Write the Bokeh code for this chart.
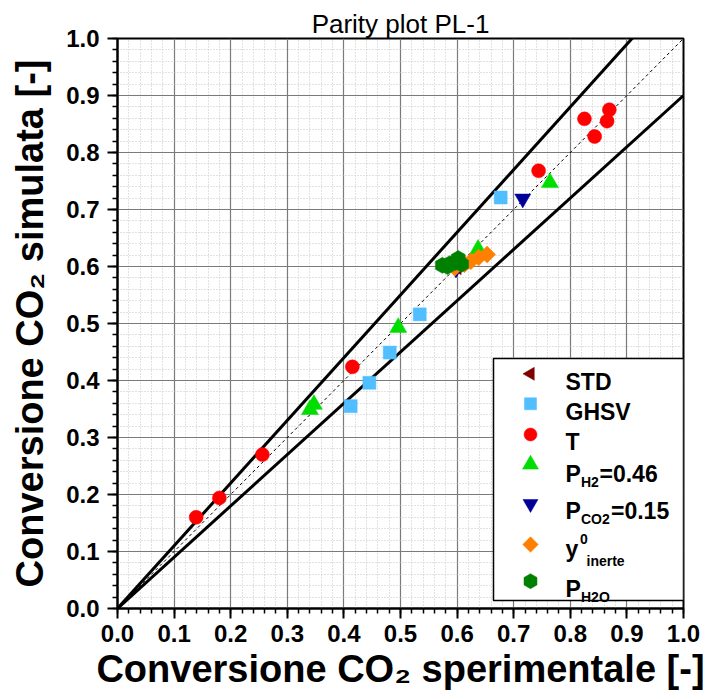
import numpy as np
from bokeh.plotting import figure
from bokeh.models import Range1d, SingleIntervalTicker, PrintfTickFormatter
from bokeh.core.properties import value
from bokeh.embed import file_html
from bokeh.resources import INLINE

# ---------------- data ----------------
std_x = [0.600]
std_y = [0.598]
ghsv_x = [0.412, 0.445, 0.481, 0.534, 0.677]
ghsv_y = [0.355, 0.396, 0.449, 0.516, 0.721]
t_x = [0.139, 0.180, 0.256, 0.415, 0.744, 0.825, 0.843, 0.865, 0.869]
t_y = [0.160, 0.194, 0.270, 0.424, 0.768, 0.859, 0.828, 0.855, 0.875]
ph2_x = [0.340, 0.347, 0.496, 0.637, 0.764]
ph2_y = [0.349, 0.358, 0.493, 0.630, 0.747]
pco2_x = [0.598, 0.716]
pco2_y = [0.596, 0.719]
y0_x = [0.596, 0.613, 0.624, 0.638, 0.653]
y0_y = [0.598, 0.604, 0.609, 0.616, 0.621]
ph2o_x = [0.574, 0.587, 0.597, 0.602, 0.608, 0.583]
ph2o_y = [0.602, 0.605, 0.607, 0.614, 0.604, 0.600]

parity_slope = 1.0
band_slopes = [1.1, 0.9]
line_x = [0.0, 1.0]

title_text = "Parity plot PL-1"
xlabel = "Conversione CO\u2082 sperimentale [-]"
ylabel = "Conversione CO\u2082 simulata [-]"

FONT = "Liberation Sans"

# ---------------- figure ----------------
p = figure(width=710, height=699, x_range=Range1d(0, 1), y_range=Range1d(0, 1),
           output_backend="svg", toolbar_location=None, title=title_text,
           min_border_left=117, min_border_right=27,
           min_border_top=38, min_border_bottom=91)
p.background_fill_color = "white"
p.border_fill_color = "white"
p.outline_line_color = "black"
p.outline_line_width = 2

p.title.align = "center"
p.title.text_font = FONT
p.title.text_font_style = "normal"
p.title.text_font_size = "26px"
p.title.text_color = "black"
p.title.standoff = 0

ticker = SingleIntervalTicker(interval=0.1, num_minor_ticks=5)
for ax in (p.xaxis[0], p.yaxis[0]):
    ax.ticker = ticker
    ax.formatter = PrintfTickFormatter(format="%.1f")
    ax.axis_line_width = 2
    ax.axis_line_color = "black"
    ax.major_tick_in = 0
    ax.major_tick_out = 10
    ax.minor_tick_in = 0
    ax.minor_tick_out = 5
    ax.major_tick_line_width = 2
    ax.minor_tick_line_width = 1.5
    ax.major_label_text_font = FONT
    ax.major_label_text_font_style = "bold"
    ax.major_label_text_font_size = "24px"
    ax.major_label_text_color = "black"
    ax.axis_label_text_font = FONT
    ax.axis_label_text_font_style = "bold"
    ax.axis_label_text_font_size = "38px"
    ax.axis_label_text_color = "black"
p.xaxis.major_label_standoff = 6
p.yaxis.major_label_standoff = 8
p.xaxis.axis_label = xlabel
p.xaxis.axis_label_standoff = 3
p.yaxis.axis_label = ylabel
p.yaxis.axis_label_standoff = 12

for g in (p.xgrid[0], p.ygrid[0]):
    g.ticker = ticker
    g.grid_line_color = "#7a7a7a"
    g.grid_line_width = 1.2
    g.minor_grid_line_color = "#c4c4c4"
    g.minor_grid_line_width = 1
    g.minor_grid_line_dash = "1 2"

# ---------------- lines ----------------
for s in band_slopes:
    p.line(line_x, [s * v for v in line_x], line_color="black", line_width=3)
p.line(line_x, [parity_slope * v for v in line_x], line_color="black",
       line_width=1, line_dash="3 3")

# ---------------- series ----------------
series = [
    ("STD", std_x, std_y, "triangle", "#800000", 14, np.pi / 2),
    ("GHSV", ghsv_x, ghsv_y, "square", "#50BEFF", 13, 0.0),
    ("T", t_x, t_y, "circle", "#FF0000", 14, 0.0),
    ("PH2", ph2_x, ph2_y, "triangle", "#00DD00", 17, 0.0),
    ("PCO2", pco2_x, pco2_y, "inverted_triangle", "#000099", 16, 0.0),
    ("y0", y0_x, y0_y, "square", "#FF8000", 12, np.pi / 4),
    ("PH2O", ph2o_x, ph2o_y, "hex", "#008000", 16, np.pi / 2),
]
for name, xs, ys, mk, col, sz, ang in series:
    p.scatter(xs, ys, marker=value(mk), size=sz, angle=ang, fill_color=col,
              line_color=col, line_width=0.5)

# ---------------- legend (drawn by hand for sub/superscripts) ----------------
def px_x(px):
    return (px - 117) / 566.0

def py_y(py):
    return (608 - py) / 570.0

p.quad(left=[px_x(493)], right=[px_x(683)], bottom=[py_y(600)], top=[py_y(358)],
       fill_color="white", line_color="black", line_width=1.5)

legend_rows_py = [373.3, 403.3, 434.0, 464.0, 503.3, 544.0, 580.7]
for (name, xs, ys, mk, col, sz, ang), ry in zip(series, legend_rows_py):
    p.scatter([px_x(530)], [py_y(ry)], marker=value(mk), size=sz - 1, angle=ang,
              fill_color=col, line_color=col, line_width=0.5)

big_pieces = [("STD", 565, 381.7), ("GHSV", 565, 411.7), ("T", 565, 441.7),
              ("P", 565, 473.3), ("=0.46", 599, 473.3),
              ("P", 565, 510.7), ("=0.15", 610.5, 510.7),
              ("y", 565, 548.7), ("P", 565, 588.3)]
small_pieces = [("H2", 580.5, 481.0), ("CO2", 580.5, 518.3),
                ("0", 579.5, 538.5), ("inerte", 586, 560.0), ("H2O", 580.5, 596.7)]

p.text(x=[px_x(a) for _, a, _ in big_pieces], y=[py_y(b) for _, _, b in big_pieces],
       text=[t for t, _, _ in big_pieces], text_font=value(FONT), text_font_style="bold",
       text_font_size="23px", text_align="left", text_baseline="alphabetic",
       text_color="black")
p.text(x=[px_x(a) for _, a, _ in small_pieces], y=[py_y(b) for _, _, b in small_pieces],
       text=[t for t, _, _ in small_pieces], text_font=value(FONT), text_font_style="bold",
       text_font_size="14px", text_align="left", text_baseline="alphabetic",
       text_color="black")

open("out.html", "w").write(file_html(p, INLINE))
